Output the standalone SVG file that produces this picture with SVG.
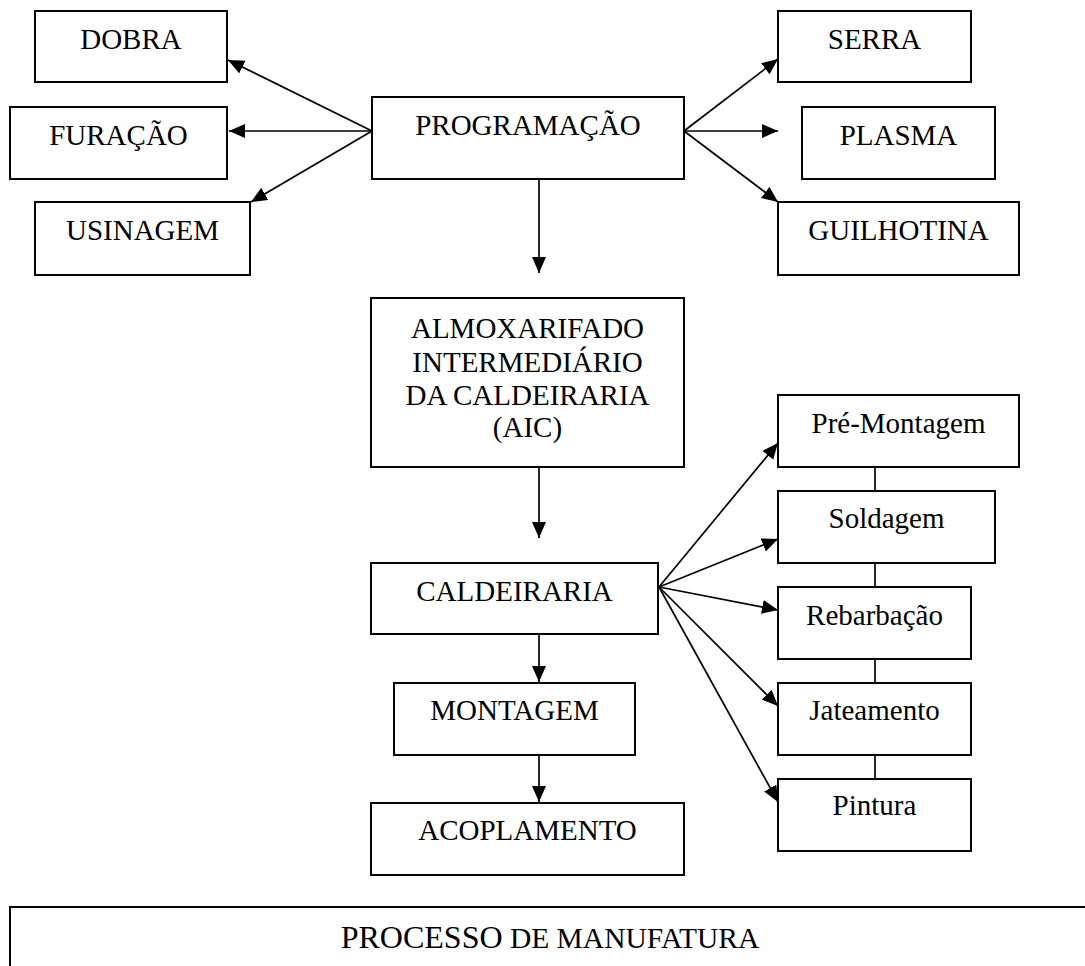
<svg xmlns="http://www.w3.org/2000/svg" width="1085" height="966" viewBox="0 0 1085 966">
<style>
  .box { fill: #ffffff; stroke: #000000; stroke-width: 2; }
  .lbl { font-family: "Liberation Serif", "Times New Roman", serif; font-size: 29px; fill: #000000; text-anchor: middle; }
  .con { stroke: #000000; stroke-width: 1.7; fill: none; }
  .arr { marker-end: url(#ah); }
</style>
<defs>
  <marker id="ah" markerUnits="userSpaceOnUse" markerWidth="17" markerHeight="15" refX="16" refY="7" orient="auto">
    <path d="M0,0 L16,7 L0,14 z" fill="#000000"/>
  </marker>
</defs>
<rect x="0" y="0" width="1085" height="966" fill="#ffffff"/>

<g id="connectors">
  <line class="con arr" x1="372" y1="131" x2="228" y2="60"/>
  <line class="con arr" x1="372" y1="131" x2="229" y2="131"/>
  <line class="con arr" x1="372" y1="131" x2="251" y2="202"/>
  <line class="con arr" x1="684" y1="131" x2="778" y2="59"/>
  <line class="con arr" x1="684" y1="131" x2="778" y2="131"/>
  <line class="con arr" x1="684" y1="131" x2="778" y2="202"/>
  <line class="con arr" x1="539" y1="179" x2="539" y2="273"/>
  <line class="con arr" x1="539" y1="467" x2="539" y2="538"/>
  <line class="con arr" x1="539" y1="634" x2="539" y2="682"/>
  <line class="con arr" x1="539" y1="755" x2="539" y2="802"/>
  <line class="con arr" x1="659" y1="587" x2="778" y2="443"/>
  <line class="con arr" x1="659" y1="587" x2="778" y2="539"/>
  <line class="con arr" x1="659" y1="587" x2="778" y2="610"/>
  <line class="con arr" x1="659" y1="587" x2="778" y2="706"/>
  <line class="con arr" x1="659" y1="587" x2="778" y2="802"/>
  <line class="con" x1="875" y1="467" x2="875" y2="491"/>
  <line class="con" x1="875" y1="563" x2="875" y2="587"/>
  <line class="con" x1="875" y1="659" x2="875" y2="683"/>
  <line class="con" x1="875" y1="755" x2="875" y2="779"/>
</g>

<g id="dobra">
  <rect class="box" x="35" y="11" width="192" height="71"/>
  <text class="lbl" x="131" y="49">DOBRA</text>
</g>
<g id="furacao">
  <rect class="box" x="10" y="107" width="217" height="72"/>
  <text class="lbl" x="118.5" y="145">FURAÇÃO</text>
</g>
<g id="usinagem">
  <rect class="box" x="35" y="202" width="215" height="73"/>
  <text class="lbl" x="142.5" y="240">USINAGEM</text>
</g>
<g id="programacao">
  <rect class="box" x="372" y="97" width="312" height="82"/>
  <text class="lbl" x="528" y="135">PROGRAMAÇÃO</text>
</g>
<g id="serra">
  <rect class="box" x="778" y="11" width="193" height="71"/>
  <text class="lbl" x="874.5" y="49">SERRA</text>
</g>
<g id="plasma">
  <rect class="box" x="802" y="107" width="193" height="72"/>
  <text class="lbl" x="898.5" y="145">PLASMA</text>
</g>
<g id="guilhotina">
  <rect class="box" x="778" y="202" width="241" height="73"/>
  <text class="lbl" x="898.5" y="240">GUILHOTINA</text>
</g>
<g id="aic">
  <rect class="box" x="371" y="298" width="313" height="169"/>
  <text class="lbl" x="527.5" y="338">ALMOXARIFADO</text>
  <text class="lbl" x="527.5" y="372">INTERMEDIÁRIO</text>
  <text class="lbl" x="527.5" y="405">DA CALDEIRARIA</text>
  <text class="lbl" x="527.5" y="437">(AIC)</text>
</g>
<g id="caldeiraria">
  <rect class="box" x="371" y="563" width="287" height="71"/>
  <text class="lbl" x="514.5" y="601">CALDEIRARIA</text>
</g>
<g id="montagem">
  <rect class="box" x="394" y="683" width="241" height="72"/>
  <text class="lbl" x="514.5" y="720">MONTAGEM</text>
</g>
<g id="acoplamento">
  <rect class="box" x="371" y="803" width="313" height="72"/>
  <text class="lbl" x="527.5" y="840">ACOPLAMENTO</text>
</g>
<g id="pre-montagem">
  <rect class="box" x="778" y="395" width="241" height="72"/>
  <text class="lbl" x="898.5" y="433">Pré-Montagem</text>
</g>
<g id="soldagem">
  <rect class="box" x="778" y="491" width="217" height="72"/>
  <text class="lbl" x="886.5" y="528">Soldagem</text>
</g>
<g id="rebarbacao">
  <rect class="box" x="778" y="587" width="193" height="72"/>
  <text class="lbl" x="874.5" y="625">Rebarbação</text>
</g>
<g id="jateamento">
  <rect class="box" x="778" y="683" width="193" height="72"/>
  <text class="lbl" x="874.5" y="720">Jateamento</text>
</g>
<g id="pintura">
  <rect class="box" x="778" y="779" width="193" height="72"/>
  <text class="lbl" x="874.5" y="815">Pintura</text>
</g>
<g id="processo">
  <rect class="box" x="10" y="907" width="1095" height="100"/>
  <text class="lbl" x="550" y="948"><tspan font-size="32">PROCESSO</tspan><tspan font-size="29.5"> DE MANUFATURA</tspan></text>
</g>
</svg>
